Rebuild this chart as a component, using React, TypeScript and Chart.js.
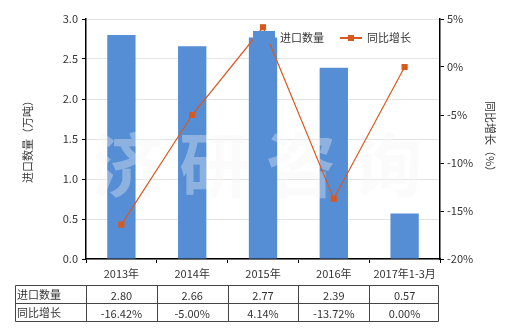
import React, { useEffect, useRef } from "react";
import { Chart, registerables } from "chart.js";

Chart.register(...registerables);

const categories = ["2013年", "2014年", "2015年", "2016年", "2017年1-3月"];
const importQty = [2.8, 2.66, 2.77, 2.39, 0.57];
const growth = [-16.42, -5.0, 4.14, -13.72, 0.0];
const qtyLabels = ["2.80", "2.66", "2.77", "2.39", "0.57"];
const growthLabels = ["-16.42%", "-5.00%", "4.14%", "-13.72%", "0.00%"];
const watermarkChars = ["济", "研", "咨", "询"];

const FONT = "'Noto Sans CJK SC', 'DejaVu Sans', sans-serif";
const BAR = "#558ED5";
const LINE = "#D9581E";
const TXT = "#333333";

const extras = {
  id: "extras",
  beforeDatasetDraw(chart: any, args: any) {
    if (args.index !== 1) return;
    const ctx = chart.ctx;
    const ca = chart.chartArea;
    ctx.save();
    ctx.fillStyle = "rgba(244,244,244,0.36)";
    ctx.font = `bold 70px ${FONT}`;
    ctx.textAlign = "center";
    ctx.textBaseline = "middle";
    const w = ca.right - ca.left;
    watermarkChars.forEach((c, i) => {
      ctx.fillText(c, ca.left + w * (0.117 + i * 0.245), 165);
    });
    ctx.restore();
  },
  afterDraw(chart: any) {
    const ctx = chart.ctx;
    const ca = chart.chartArea;
    ctx.save();
    // legend
    ctx.font = `11px ${FONT}`;
    ctx.textBaseline = "middle";
    ctx.textAlign = "left";
    ctx.fillStyle = BAR;
    ctx.fillRect(253, 31, 22, 13);
    ctx.fillStyle = TXT;
    ctx.fillText("进口数量", 280, 38);
    ctx.strokeStyle = LINE;
    ctx.lineWidth = 2;
    ctx.beginPath();
    ctx.moveTo(340, 38);
    ctx.lineTo(362, 38);
    ctx.stroke();
    ctx.fillStyle = LINE;
    ctx.fillRect(348, 35, 6, 6);
    ctx.fillStyle = TXT;
    ctx.fillText("同比增长", 367, 38);

    // table
    const left = 15.5;
    const right = ca.right - 1.5;
    const top = 285.5;
    const mid = 303.5;
    const bot = 321.5;
    const colW = (ca.right - ca.left) / categories.length;
    ctx.strokeStyle = "#444";
    ctx.lineWidth = 1;
    ctx.beginPath();
    [top, mid, bot].forEach((y) => {
      ctx.moveTo(left, y);
      ctx.lineTo(right, y);
    });
    ctx.moveTo(left, top);
    ctx.lineTo(left, bot);
    for (let i = 0; i <= categories.length; i++) {
      const x = Math.round(ca.left + i * colW) + 0.5;
      const xx = i === categories.length ? right : x;
      ctx.moveTo(xx, top);
      ctx.lineTo(xx, bot);
    }
    ctx.stroke();
    ctx.fillStyle = TXT;
    ctx.textAlign = "left";
    ctx.fillText("进口数量", 17, (top + mid) / 2);
    ctx.fillText("同比增长", 17, (mid + bot) / 2);
    ctx.textAlign = "center";
    const xs = chart.scales.x;
    categories.forEach((_, i) => {
      const cx = xs.getPixelForValue(i);
      ctx.fillText(qtyLabels[i], cx, (top + mid) / 2 + 1);
      ctx.fillText(growthLabels[i], cx, (mid + bot) / 2 + 1);
    });
    ctx.restore();
  },
};

export default function App() {
  const ref = useRef<HTMLCanvasElement>(null);
  useEffect(() => {
    document.body.style.margin = "0";
    const chart = new Chart(ref.current as HTMLCanvasElement, {
      type: "bar",
      data: {
        labels: categories,
        datasets: [
          {
            type: "bar",
            label: "进口数量",
            data: importQty,
            backgroundColor: BAR,
            yAxisID: "y",
            barPercentage: 0.4,
            categoryPercentage: 1,
            order: 2,
          },
          {
            type: "line",
            label: "同比增长",
            data: growth,
            borderColor: LINE,
            backgroundColor: LINE,
            borderWidth: 1.2,
            pointStyle: "rect",
            pointRadius: 3.5,
            pointBackgroundColor: LINE,
            pointBorderColor: LINE,
            yAxisID: "y1",
            order: 1,
          } as any,
        ],
      },
      options: {
        animation: false,
        responsive: false,
        maintainAspectRatio: false,
        layout: { padding: { top: 19, left: 0, right: 0, bottom: 0 } },
        plugins: { legend: { display: false }, tooltip: { enabled: false } },
        scales: {
          x: {
            grid: { drawOnChartArea: false, tickLength: 4, tickColor: "#000" },
            border: { color: "#000", width: 1.5 },
            ticks: { color: TXT, font: { family: FONT, size: 11 }, padding: 4, maxRotation: 0 },
            afterFit(s: any) {
              s.height = 71;
            },
          },
          y: {
            position: "left",
            min: 0,
            max: 3,
            ticks: {
              stepSize: 0.5,
              color: TXT,
              font: { family: FONT, size: 11 },
              padding: 4,
              callback: (v: any) => Number(v).toFixed(1),
            },
            grid: { color: "#e4e4e4", tickColor: "#000", tickLength: 4 },
            border: { color: "#000", width: 1.5 },
            title: {
              display: true,
              text: "进口数量（万吨）",
              color: TXT,
              font: { family: FONT, size: 11 },
              padding: { top: 21, bottom: 0 },
            },
            afterFit(s: any) {
              s.width = 86;
            },
          },
          y1: {
            position: "right",
            min: -20,
            max: 5,
            ticks: {
              stepSize: 5,
              color: TXT,
              font: { family: FONT, size: 11 },
              padding: 3,
              callback: (v: any) => `${v}%`,
            },
            grid: { drawOnChartArea: false, tickColor: "#000", tickLength: 4 },
            border: { color: "#000", width: 1.5 },
            title: {
              display: true,
              text: "同比增长（%）",
              color: TXT,
              font: { family: FONT, size: 11 },
              padding: { top: 23, bottom: 0 },
            },
            afterFit(s: any) {
              s.width = 80;
            },
          },
        },
      } as any,
      plugins: [extras],
    });
    return () => chart.destroy();
  }, []);
  return (
    <div style={{ width: 520, height: 330, background: "#fff" }}>
      <canvas ref={ref} width={520} height={330} style={{ display: "block" }} />
    </div>
  );
}
